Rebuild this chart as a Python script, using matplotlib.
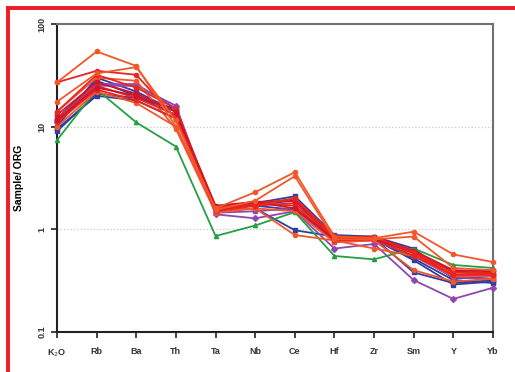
import matplotlib
matplotlib.use("Agg")
import matplotlib.pyplot as plt
from matplotlib.lines import Line2D

plt.rcParams['font.family'] = ['Liberation Sans', 'DejaVu Sans']

elements = ["K$_2$O", "Rb", "Ba", "Th", "Ta", "Nb", "Ce", "Hf", "Zr", "Sm", "Y", "Yb"]

# sample / ORG normalised values, one list per sample
s_red_a = [27, 54, 39, 10, 1.6, 2.3, 3.6, 0.85, 0.82, 0.95, 0.57, 0.48]
s_red_b = [17.5, 33, 38, 11.5, 1.55, 1.9, 3.3, 0.80, 0.80, 0.85, 0.42, 0.40]
s_red_c = [27, 35, 32, 12, 1.5, 1.7, 2.0, 0.82, 0.84, 0.60, 0.38, 0.37]
s_org_a = [14, 30, 28, 9.5, 1.45, 1.6, 0.88, 0.78, 0.65, 0.55, 0.35, 0.35]
s_blu_a = [10, 30, 22, 14, 1.5, 1.6, 0.98, 0.85, 0.82, 0.38, 0.30, 0.32]
s_blu_b = [12, 28, 20, 13, 1.6, 1.8, 2.1, 0.88, 0.85, 0.65, 0.33, 0.35]
s_blu_c = [9, 21, 19, 15, 1.5, 1.75, 1.9, 0.82, 0.80, 0.50, 0.29, 0.31]
s_blu_d = [9.5, 20, 18, 12, 1.55, 1.7, 1.55, 0.80, 0.82, 0.52, 0.32, 0.30]
s_pur_a = [11, 25, 25, 16, 1.4, 1.28, 1.5, 0.65, 0.72, 0.32, 0.21, 0.27]
s_pur_b = [12, 26, 26, 15, 1.45, 1.5, 1.6, 0.75, 0.78, 0.55, 0.34, 0.33]
s_grn_a = [7.4, 23, 11, 6.4, 0.86, 1.09, 1.47, 0.55, 0.51, 0.65, 0.45, 0.42]
s_red_d = [12, 25, 19, 13, 1.6, 1.7, 1.8, 0.80, 0.83, 0.60, 0.38, 0.38]
s_red_e = [11, 23, 18, 12, 1.55, 1.8, 1.7, 0.78, 0.80, 0.55, 0.36, 0.36]
s_red_f = [13, 27, 21, 14, 1.65, 1.85, 1.9, 0.84, 0.85, 0.62, 0.40, 0.39]
s_org_b = [10, 22, 17, 10, 1.5, 1.6, 1.5, 0.75, 0.78, 0.40, 0.31, 0.33]
s_red_g = [14, 32, 24, 15, 1.6, 1.75, 2.0, 0.86, 0.82, 0.58, 0.36, 0.37]
s_red_h = [11.5, 24, 20, 14, 1.7, 1.85, 1.6, 0.80, 0.80, 0.60, 0.39, 0.40]

RED = "#e8261f"
ORANGE = "#f2562a"
DRED = "#d0142c"
BLUE = "#2f3ea0"
PURPLE = "#8f47b3"
GREEN = "#23a044"

series = [
    (s_blu_a, BLUE, "s"), (s_blu_b, BLUE, "s"), (s_blu_c, BLUE, "s"), (s_blu_d, BLUE, "s"),
    (s_pur_a, PURPLE, "D"), (s_pur_b, PURPLE, "s"),
    (s_grn_a, GREEN, "^"),
    (s_org_a, ORANGE, "o"), (s_org_b, ORANGE, "o"),
    (s_red_d, RED, "o"), (s_red_e, RED, "o"), (s_red_f, DRED, "o"),
    (s_red_g, RED, "o"), (s_red_h, DRED, "o"),
    (s_red_c, RED, "o"), (s_red_b, ORANGE, "o"), (s_red_a, ORANGE, "o"),
]

fig = plt.figure(figsize=(5.15, 3.72), dpi=100)
ax = fig.add_axes([0.1107, 0.1075, 0.8466, 0.828])

x = list(range(len(elements)))
for vals, col, mk in series:
    ax.plot(x, vals, color=col, lw=1.3, marker=mk, ms=3, mec=col, mfc=col,
            clip_on=False, zorder=3)

ax.set_yscale("log")
ax.set_ylim(0.1, 100)
ax.set_xlim(0, len(elements) - 1)
ax.set_yticks([0.1, 1, 10, 100])
ax.set_yticklabels(["0.1", "1", "10", "100"], rotation=90, va="center",
                   fontsize=6.5, fontweight="bold", color="#333333")
ax.minorticks_off()
ax.set_xticks(x)
ax.set_xticklabels(elements, fontsize=6.5, fontweight="bold", color="#333333")
ax.tick_params(axis="both", direction="out", length=4, width=1.3, color="#333333")
ax.tick_params(axis="x", pad=7)

for yv in (1, 10):
    ax.axhline(yv, color="#c8c8c8", lw=0.9, ls=":", zorder=1)

for side in ("left", "bottom"):
    ax.spines[side].set_color("#222222")
    ax.spines[side].set_linewidth(1.5)
for side in ("top", "right"):
    ax.spines[side].set_color("#707070")
    ax.spines[side].set_linewidth(1.5)

ax.set_ylabel("Sample/ ORG", fontsize=7.5, fontweight="bold", labelpad=10)

# red frame along the top and left edges
fig.add_artist(Line2D([8 / 515, 1], [1 - 8 / 372, 1 - 8 / 372], color="#ee1c24", lw=2.8,
                      transform=fig.transFigure))
fig.add_artist(Line2D([8 / 515, 8 / 515], [0, 1 - 8 / 372], color="#ee1c24", lw=2.8,
                      transform=fig.transFigure))

fig.savefig("out.png", dpi=100)
